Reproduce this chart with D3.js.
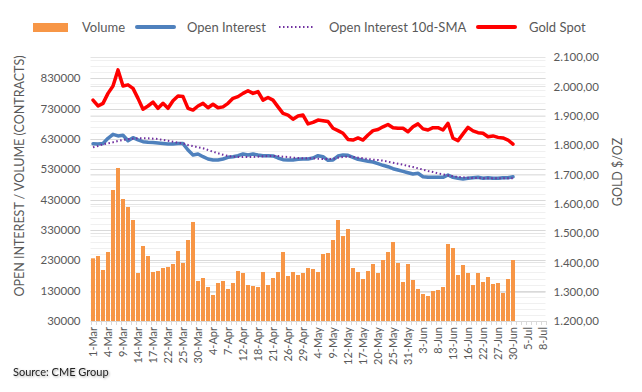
<!DOCTYPE html>
<html><head><meta charset="utf-8">
<script src="https://cdn.jsdelivr.net/npm/d3@7"></script>
<style>
html,body{margin:0;padding:0;background:#fff;}
svg{display:block;font-family:Lato,"Open Sans",sans-serif;}
</style></head>
<body><svg id="chart" width="642" height="392"></svg>
<script>
const dates = ["1-Mar","2-Mar","3-Mar","4-Mar","7-Mar","8-Mar","9-Mar","10-Mar","11-Mar","14-Mar","15-Mar","16-Mar","17-Mar","18-Mar","21-Mar","22-Mar","23-Mar","24-Mar","25-Mar","28-Mar","29-Mar","30-Mar","31-Mar",
"1-Apr","4-Apr","5-Apr","6-Apr","7-Apr","8-Apr","11-Apr","12-Apr","13-Apr","14-Apr","18-Apr","19-Apr","20-Apr","21-Apr","22-Apr","25-Apr","26-Apr","27-Apr","28-Apr","29-Apr",
"2-May","3-May","4-May","5-May","6-May","9-May","10-May","11-May","12-May","13-May","16-May","17-May","18-May","19-May","20-May","23-May","24-May","25-May","26-May","27-May","31-May",
"1-Jun","2-Jun","3-Jun","6-Jun","7-Jun","8-Jun","9-Jun","10-Jun","13-Jun","14-Jun","15-Jun","16-Jun","17-Jun","21-Jun","22-Jun","23-Jun","24-Jun","27-Jun","28-Jun","29-Jun","30-Jun",
"1-Jul","4-Jul","5-Jul","6-Jul","7-Jul","8-Jul"];

const volume = [236600,244200,198100,257400,461700,534200,432000,405700,362800,188200,277200,244200,191500,194800,204700,208000,217800,260700,221100,296900,356300,161800,171700,142000,115700,155200,161800,135500,155200,194800,188200,148600,145300,142000,191500,148600,171700,191500,257400,178300,191500,181600,
188200,204700,201400,191500,250800,254100,296900,362800,310100,333200,204700,191500,168400,194800,217800,188200,231000,257400,290300,221100,158500,217800,165100,135500,119000,112400,128900,132200,142000,283800,270600,181600,214500,188200,148600,188200,158500,175000,151900,155200,122300,168400,231000];

const openInterest = [614000,613000,615000,632000,645000,640000,642000,624000,634000,627000,621000,619000,618000,616600,615000,613300,613300,614600,614600,593500,577000,580300,571500,563900,560600,560600,563900,569500,571500,574800,580300,577000,580300,577000,574800,574800,574000,567200,
561600,560600,560600,562800,563900,563900,567200,574800,571500,559600,560600,573700,577000,576000,569500,562800,559600,556300,554000,548400,543100,538500,531900,527600,523200,518700,514400,516700,505500,503500,503500,504000,503500,511100,503500,500300,498000,500300,502300,503500,500300,502300,500300,500300,502300,502300,505500];

const oiSma = [602400,606700,612300,615600,618900,623200,626500,628800,631000,632100,632100,632100,631000,629800,626500,624200,620900,617600,615600,610000,606700,602400,599100,593500,587900,582700,578000,573700,571500,570500,570500,570500,570500,571500,572800,573700,574000,573500,
571500,570500,568200,567200,566100,566100,566100,565000,563900,563900,564500,568200,570500,571500,570500,568200,566100,563900,561600,560600,558400,555000,551700,548400,545100,540800,537500,533200,528700,524300,521000,516700,513400,510100,506800,504600,503500,502300,501300,501300,500300,500300,500300,500300,500300,500300,500800];

const goldSpot = [1953,1933,1942,1976,2001,2056,2001,2005,1993,1959,1922,1933,1946,1925,1942,1925,1951,1967,1965,1925,1919,1933,1942,1927,1939,1927,1930,1942,1959,1965,1976,1985,1976,1982,1953,1962,1953,1930,
1908,1902,1888,1899,1902,1872,1877,1885,1883,1880,1857,1849,1840,1819,1817,1824,1817,1834,1849,1853,1862,1870,1859,1857,1857,1845,1862,1872,1855,1851,1859,1859,1851,1874,1823,1815,1838,1860,1848,1842,1840,1828,1831,1826,1824,1817,1803];

const leftTicks = [30000,130000,230000,330000,430000,530000,630000,730000,830000];
const rightTicks = [1200,1300,1400,1500,1600,1700,1800,1900,2000,2100];
const legendLabels = ["Volume","Open Interest","Open Interest 10d-SMA","Gold Spot"];

const svg = d3.select("#chart");
const L = 90.5, R = 545.5, T = 57, B = 321;
const x = d3.scaleBand().domain(dates).range([L, R]).paddingInner(0.2).paddingOuter(0.1);
const yL = d3.scaleLinear().domain([30000, 900000]).range([B, T]);
const yR = d3.scaleLinear().domain([1200, 2100]).range([B, T]);
const cx = (d) => x(d) + x.bandwidth() / 2;
const step = x.step();

// gridlines: minor + major
const g = svg.append("g");
g.selectAll("line.minor").data(d3.range(30000, 900001, 20000)).join("line")
  .attr("x1", L).attr("x2", R).attr("y1", d => Math.round(yL(d)) + 0.5).attr("y2", d => Math.round(yL(d)) + 0.5)
  .attr("stroke", "#f0f0f0").attr("stroke-width", 1);
g.selectAll("line.rmaj").data(rightTicks).join("line")
  .attr("x1", L).attr("x2", R).attr("y1", d => Math.round(yR(d)) + 0.5).attr("y2", d => Math.round(yR(d)) + 0.5)
  .attr("stroke", "#e4e4e4").attr("stroke-width", 1);
g.selectAll("line.lmaj").data(leftTicks.slice(1)).join("line")
  .attr("x1", L).attr("x2", R).attr("y1", d => Math.round(yL(d)) + 0.5).attr("y2", d => Math.round(yL(d)) + 0.5)
  .attr("stroke", "#d9d9d9").attr("stroke-width", 1);

// bars
svg.append("g").selectAll("rect").data(volume).join("rect")
  .attr("x", (d, i) => x(dates[i]))
  .attr("width", x.bandwidth())
  .attr("y", d => yL(d))
  .attr("height", d => B - yL(d))
  .attr("fill", "#F79646");

// x axis
const xAxis = d3.axisBottom(x)
  .tickValues(dates.filter((d, i) => i % 3 === 0))
  .tickSize(0).tickPadding(4);
const xg = svg.append("g").attr("transform", `translate(0,${B})`).call(xAxis);
xg.select(".domain").attr("stroke", "#d9d9d9");
xg.selectAll("text").attr("transform", "rotate(-90)").attr("text-anchor", "end")
  .attr("dy", "0.35em").attr("y", 0).attr("x", -6)
  .attr("font-size", 11).attr("fill", "#595959").attr("font-family", "Lato");
// category tick marks
svg.append("g").selectAll("line").data(d3.range(dates.length + 1)).join("line")
  .attr("x1", i => Math.round(L + i * step) + 0.5).attr("x2", i => Math.round(L + i * step) + 0.5)
  .attr("y1", B).attr("y2", B + 4).attr("stroke", "#d9d9d9");

// left axis
const la = svg.append("g").attr("transform", `translate(${L},0)`)
  .call(d3.axisLeft(yL).tickValues(leftTicks).tickFormat(d3.format("d")).tickSize(0).tickPadding(10));
la.select(".domain").remove();
la.selectAll("text").attr("font-size", 11.5).attr("fill", "#595959").attr("font-family", "Lato");

// right axis
const fmtR = (v) => d3.format(",.2f")(v).replace(/,/g, "#").replace(/\./g, ",").replace(/#/g, ".");
const ra = svg.append("g").attr("transform", `translate(${R},0)`)
  .call(d3.axisRight(yR).tickValues(rightTicks).tickFormat(fmtR).tickSize(0).tickPadding(8));
ra.select(".domain").remove();
ra.selectAll("text").attr("font-size", 11.5).attr("fill", "#595959").attr("font-family", "Lato");

// lines
const lineL = (arr) => d3.line().x((d, i) => cx(dates[i])).y(d => yL(d))(arr);
const lineR = (arr) => d3.line().x((d, i) => cx(dates[i])).y(d => yR(d))(arr);
svg.append("path").attr("d", lineL(openInterest)).attr("fill", "none").attr("stroke", "#4F81BD")
  .attr("stroke-width", 3.5).attr("stroke-linejoin", "round").attr("stroke-linecap", "round");
svg.append("path").attr("d", lineL(oiSma)).attr("fill", "none").attr("stroke", "#7030A0")
  .attr("stroke-width", 2).attr("stroke-dasharray", "1.5,2.5");
svg.append("path").attr("d", lineR(goldSpot)).attr("fill", "none").attr("stroke", "#FF0000")
  .attr("stroke-width", 3.5).attr("stroke-linejoin", "round").attr("stroke-linecap", "round");

// axis titles
svg.append("text").attr("transform", "translate(24,176) rotate(-90)").attr("text-anchor", "middle")
  .attr("font-size", 12.5).attr("fill", "#595959").text("OPEN INTEREST / VOLUME (CONTRACTS)");
svg.append("text").attr("transform", "translate(622,172) rotate(-90)").attr("text-anchor", "middle")
  .attr("font-size", 12.5).attr("fill", "#595959").text("GOLD $/OZ");

// legend
const lg = svg.append("g").attr("font-size", 13).attr("fill", "#595959");
const ly = 27;
lg.append("rect").attr("x", 33).attr("y", ly - 4).attr("width", 35).attr("height", 9).attr("fill", "#F79646");
lg.append("text").attr("x", 82).attr("y", ly + 4.5).text(legendLabels[0]);
lg.append("line").attr("x1", 137).attr("x2", 174).attr("y1", ly).attr("y2", ly).attr("stroke", "#4F81BD").attr("stroke-width", 4).attr("stroke-linecap", "round");
lg.append("text").attr("x", 187).attr("y", ly + 4.5).text(legendLabels[1]);
lg.append("line").attr("x1", 279).attr("x2", 315).attr("y1", ly).attr("y2", ly).attr("stroke", "#7030A0").attr("stroke-width", 2).attr("stroke-dasharray", "1.5,2.5");
lg.append("text").attr("x", 329).attr("y", ly + 4.5).text(legendLabels[2]);
lg.append("line").attr("x1", 478).attr("x2", 515).attr("y1", ly).attr("y2", ly).attr("stroke", "#FF0000").attr("stroke-width", 4).attr("stroke-linecap", "round");
lg.append("text").attr("x", 529).attr("y", ly + 4.5).text(legendLabels[3]);

// source
const defs = svg.append("defs");
const f = defs.append("filter").attr("id", "sh").attr("x", "-10%").attr("y", "-50%").attr("width", "130%").attr("height", "200%");
f.append("feDropShadow").attr("dx", 1).attr("dy", 1).attr("stdDeviation", 0.8).attr("flood-color", "#000").attr("flood-opacity", 0.35);
svg.append("text").attr("x", 13).attr("y", 376).attr("font-size", 11).attr("fill", "#222")
  .attr("filter", "url(#sh)").text("Source: CME Group");
</script></body></html>
